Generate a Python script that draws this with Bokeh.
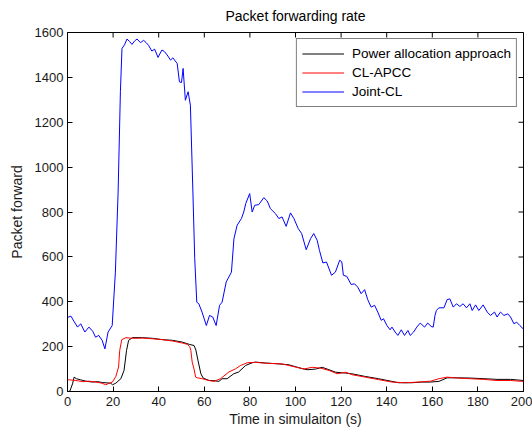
from bokeh.plotting import figure
from bokeh.models import Range1d, FixedTicker, Legend, LegendItem
from bokeh.embed import file_html
from bokeh.resources import INLINE

# ---- data ----
x_ticks = [0, 20, 40, 60, 80, 100, 120, 140, 160, 180, 200]
y_ticks = [0, 200, 400, 600, 800, 1000, 1200, 1400, 1600]

black_t = [0, 1, 2.2, 2.9, 3.9, 5.8, 8.0, 10.9, 13.2, 15.3, 19.0, 19.7, 21.2, 23.4, 24.8, 25.9,
           26.8, 28.5, 32.9, 37.3, 41.7, 46.1, 50.4, 53.4, 55.5, 56.3, 57.2, 58.5, 59.5, 62.1,
           63.5, 66.4, 67.8, 70.0, 72.9, 75.1, 78.1, 81.0, 82.5, 86.8, 92.7, 97.1, 101.5, 105.1,
           108.8, 111.7, 114.7, 117.6, 122.0, 124.7, 130.6, 136.4, 142.3, 145.2, 151.0, 155.4,
           159.2, 162.9, 166.5, 170.9, 176.7, 182.6, 188.4, 194.3, 200.0]
black_v = [0, 1, 34, 64, 57, 52, 46, 42, 44, 40, 37, 30, 37, 57, 94, 183,
           228, 240, 240, 237, 231, 228, 220, 210, 205, 185, 140, 79, 60, 49,
           49, 45, 57, 57, 79, 87, 116, 128, 131, 127, 123, 119, 106, 97,
           100, 108, 97, 86, 82, 79, 67, 57, 45, 39, 39, 42,
           42, 45, 61, 61, 60, 57, 54, 54, 49]

red_t = [0, 1, 3.7, 6.6, 9.5, 12.4, 15.1, 16.8, 18.3, 19.7, 21.2, 22.4, 22.9, 23.8, 25.6, 28.5,
         32.9, 37.3, 41.7, 46.1, 50.4, 52.6, 53.6, 54.1, 54.7, 55.5, 56.2, 57.0, 59.1, 62.0,
         64.2, 67.1, 70.8, 73.7, 75.9, 78.8, 82.5, 86.8, 94.1, 100.0, 103.7, 107.3, 111.0,
         114.7, 118.3, 122.0, 124.7, 130.6, 136.4, 142.3, 148.2, 154.0, 159.2, 162.9, 166.5,
         170.9, 176.7, 182.6, 188.4, 194.3, 200.0]
red_v = [52, 52, 49, 44, 46, 42, 37, 30, 37, 42, 67, 109, 183, 231, 240, 237,
         238, 235, 231, 225, 216, 210, 200, 183, 131, 100, 64, 61, 57, 49,
         45, 57, 87, 101, 116, 128, 130, 126, 123, 109, 100, 108, 104,
         94, 79, 86, 75, 64, 53, 42, 39, 42, 46, 57, 64,
         60, 57, 54, 49, 49, 45]

blue_t = [0, 1.5, 3, 4.4, 5.8, 7.6, 9.4, 11.1, 12.3, 13.7, 15.2, 16.4, 17.8, 19.6, 21.0, 22.2,
          23.2, 23.9, 25.0, 26.1, 27.2, 28.3, 29.4, 30.5, 32.0, 33.4, 34.5, 35.6, 37.0, 38.2,
          39.7, 41.4, 42.5, 43.7, 45.2, 46.2, 48.1, 49.1, 50.0, 50.7, 51.7, 52.9, 53.9, 55.0,
          55.8, 56.7, 57.6, 59.0, 60.9, 62.3, 63.7, 65.2, 66.7, 67.8, 69.6, 71.9, 73.0, 74.4,
          76.3, 77.3, 78.2, 79.9, 81.0, 82.1, 83.9, 86.1, 87.6, 89.0, 91.2, 92.7, 94.1, 95.9,
          97.8, 99.3, 101.2, 102.7, 104.7, 106.6, 108.0, 109.5, 110.5, 112.0, 113.6, 115.8,
          117.5, 119.4, 120.3, 121.0, 122.5, 124.4, 125.9, 127.3, 128.8, 130.3, 131.7, 133.2,
          134.7, 136.1, 137.6, 138.6, 140.1, 141.5, 142.3, 143.7, 144.9, 146.4, 147.8, 149.3,
          150.3, 151.8, 153.2, 154.7, 156.6, 158.0, 159.5, 160.4, 161.2, 161.8, 162.9, 165.1,
          166.5, 167.7, 169.2, 170.6, 172.1, 173.5, 175.0, 176.5, 177.5, 179.0, 180.4, 182.3,
          184.1, 185.5, 187.3, 188.4, 189.9, 191.4, 193.1, 194.3, 195.8, 197.0, 198.4, 200.0]
blue_v = [330, 336, 310, 287, 302, 265, 287, 268, 242, 250, 228, 190, 265, 294, 532, 889,
          1336, 1529, 1545, 1571, 1560, 1547, 1562, 1571, 1555, 1565, 1555, 1542, 1517, 1526,
          1489, 1522, 1515, 1500, 1477, 1487, 1462, 1380, 1377, 1440, 1298, 1336, 1276, 889,
          592, 398, 391, 354, 294, 339, 332, 294, 384, 398, 488, 532, 681, 741,
          771, 800, 838, 882, 800, 830, 833, 864, 849, 815, 793, 771, 778, 736,
          796, 771, 726, 704, 632, 681, 704, 674, 629, 573, 577, 518,
          532, 585, 578, 518, 513, 477, 480, 465, 436, 454, 409, 376,
          384, 354, 317, 324, 294, 275, 287, 265, 250, 275, 250, 272,
          250, 265, 287, 305, 287, 305, 290, 287, 340, 361, 373, 373,
          409, 413, 376, 391, 379, 391, 373, 391, 361, 386, 361, 386,
          354, 339, 354, 332, 354, 339, 346, 332, 302, 309, 294, 278]

series_names = ["Power allocation approach", "CL-APCC", "Joint-CL"]
series_colors = ["#000000", "#ff0000", "#0000ff"]
title_text = "Packet forwarding rate"
x_label = "Time in simulaiton (s)"
y_label = "Packet forward"

FONT = "Liberation Sans"
TXT = "#1a1a1a"

x_range = Range1d(x_ticks[0], x_ticks[-1])
y_range = Range1d(y_ticks[0], y_ticks[-1])

p = figure(width=532, height=430, output_backend="svg", toolbar_location=None,
           x_range=x_range, y_range=y_range, title=title_text,
           min_border_left=67, min_border_right=9, min_border_top=32, min_border_bottom=39)
p.background_fill_color = "white"
p.border_fill_color = "white"
p.outline_line_color = "black"
p.outline_line_width = 1
p.xgrid.visible = False
p.ygrid.visible = False

p.title.align = "center"
p.title.vertical_align = "top"
p.title.text_font = FONT
p.title.text_font_size = "14px"
p.title.text_font_style = "normal"
p.title.text_color = "black"
p.title.standoff = 13

for ax in (p.xaxis[0], p.yaxis[0]):
    ax.major_tick_in = 5
    ax.major_tick_out = 0
    ax.minor_tick_in = 0
    ax.minor_tick_out = 0
    ax.axis_line_color = "black"
    ax.major_tick_line_color = "black"
    ax.major_label_text_font = FONT
    ax.major_label_text_font_size = "13px"
    ax.major_label_text_color = TXT
    ax.axis_label_text_font = FONT
    ax.axis_label_text_font_size = "14px"
    ax.axis_label_text_font_style = "normal"
    ax.axis_label_text_color = TXT

p.xaxis[0].ticker = FixedTicker(ticks=x_ticks)
p.yaxis[0].ticker = FixedTicker(ticks=y_ticks)
p.xaxis[0].axis_label = x_label
p.yaxis[0].axis_label = y_label
p.xaxis[0].major_label_standoff = 5
p.xaxis[0].axis_label_standoff = 2
p.yaxis[0].major_label_standoff = 4
p.yaxis[0].axis_label_standoff = 7

# inward tick marks on the top and right sides of the box (MATLAB style);
# the half outside the box is clipped away
p.rect(x=x_ticks, y=[y_ticks[-1]] * len(x_ticks), width=1, height=10,
       width_units="screen", height_units="screen", fill_color="black", line_color=None)
p.rect(x=[x_ticks[-1]] * len(y_ticks), y=y_ticks, width=10, height=1,
       width_units="screen", height_units="screen", fill_color="black", line_color=None)

r_black = p.line(black_t, black_v, line_color=series_colors[0], line_width=1)
r_red = p.line(red_t, red_v, line_color=series_colors[1], line_width=1)
r_blue = p.line(blue_t, blue_v, line_color=series_colors[2], line_width=1)

legend = Legend(items=[LegendItem(label=series_names[0], renderers=[r_black]),
                       LegendItem(label=series_names[1], renderers=[r_red]),
                       LegendItem(label=series_names[2], renderers=[r_blue])],
                location="top_right")
legend.margin = 6
legend.padding = 5
legend.spacing = 0
legend.glyph_width = 42
legend.glyph_height = 19
legend.label_height = 19
legend.label_standoff = 8
legend.label_text_font = FONT
legend.label_text_font_size = "13.5px"
legend.label_text_color = "black"
legend.border_line_color = "black"
legend.border_line_width = 1
legend.background_fill_color = "white"
legend.background_fill_alpha = 1
p.add_layout(legend, "center")

open("out.html", "w").write(file_html(p, INLINE))
